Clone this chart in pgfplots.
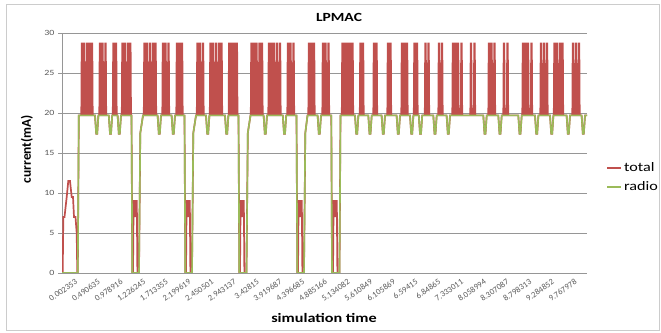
\documentclass[border=0pt]{standalone}
\usepackage{pgfplots}
\pgfplotsset{compat=1.18}
\usepackage{fontspec}
\setmainfont{Carlito}[FakeStretch=1.25]
\newfontfamily\ylabfont{Carlito}
\definecolor{exred}{RGB}{192,80,77}
\definecolor{exgreen}{RGB}{155,187,89}
\definecolor{gridgray}{RGB}{150,150,150}
\definecolor{ticktext}{RGB}{90,90,90}
\begin{document}
\begin{tikzpicture}
\useasboundingbox (0,0) rectangle (661bp,333bp);
\draw[color=black!20, line width=1bp] (6.5bp,2bp) rectangle (659bp,328.5bp);
\begin{axis}[
  at={(62bp,60bp)}, anchor=south west,
  scale only axis, width=525bp, height=240bp,
  xmin=62, xmax=587, ymin=0, ymax=30,
  ytick={0,5,10,15,20,25,30},
  xtick={75,97.7,120.4,143.1,165.8,188.5,211.2,233.9,256.6,279.3,302,324.7,347.4,370.1,392.8,415.5,438.2,460.9,483.6,506.3,529,551.7,574.4},
  xticklabels={0.002353,0.490635,0.978916,1.226245,1.713355,2.199619,2.450501,2.943137,3.42815,3.919687,4.396685,4.885166,5.134082,5.610849,6.105869,6.59415,6.84865,7.333011,8.058994,8.307087,8.798313,9.284852,9.767978},
  /pgf/number format/assume math mode=true,
  axis x line*=bottom, axis y line*=left,
  axis line style={draw=gridgray, line width=0.8bp},
  ymajorgrids, grid style={draw=gridgray, line width=0.8bp},
  tick align=outside, major tick length=4bp,
  ytick style={draw=gridgray, line width=0.8bp},
  xtick style={draw=none},
  y tick label style={font=\fontsize{8}{9}\selectfont, text=ticktext},
  x tick label style={rotate=35, anchor=north east, font=\ylabfont\fontsize{8.5}{9}\selectfont, text=ticktext, inner sep=1bp},
  legend style={at={(1.036,0.398)}, anchor=west, draw=none, fill=none, inner sep=0pt, row sep=5bp, font=\fontsize{13}{14}\selectfont},
  legend cell align=left,
  legend image code/.code={\draw[mark repeat=2,mark phase=2,#1] plot coordinates {(0bp,0bp) (7bp,0bp) (14bp,0bp)};},
  legend image post style={line width=2bp},
]
\addplot[color=exred, line width=1.7bp, line join=miter] coordinates {
(62,0)(62.7,0)(63.3,7)(64.5,7)(66.7,9.5)(68.3,11.5)(70,11.5)(71.7,9.5)(73,9.5)(74,7)(75.5,7)(76.7,5)(77.3,0)(77.8,0)(78.8,19.7)
(81.3,19.7)(81.7,28.7)(82.3,28.7)(82.7,19.7)
(83.3,19.7)(83.7,28.7)(84.3,28.7)(84.7,19.7)
(86.3,19.7)(86.7,28.7)(87.3,28.7)(87.7,19.7)
(88.8,19.7)(89.2,28.7)(89.8,28.7)(90.2,19.7)
(91.3,19.7)(91.7,28.7)(92.3,28.7)(92.7,19.7)
(95,19.7)(96.2,17.4)(97.2,17.4)(98.4,19.7)
(99.3,19.7)(99.7,28.7)(100.3,28.7)(100.7,19.7)
(101.8,19.7)(102.2,28.7)(102.8,28.7)(103.2,19.7)
(104.8,19.7)(105.2,28.7)(105.8,28.7)(106.2,19.7)
(108.8,19.7)(110,17.4)(111,17.4)(112.2,19.7)
(112.8,19.7)(113.2,28.7)(113.8,28.7)(114.2,19.7)
(115.3,19.7)(115.7,28.7)(116.3,28.7)(116.7,19.7)
(117.6,19.7)(118.8,17.4)(119.8,17.4)(121,19.7)
(121.8,19.7)(122.2,28.7)(122.8,28.7)(123.2,19.7)
(124.3,19.7)(124.7,28.7)(125.3,28.7)(125.7,19.7)
(127.3,19.7)(127.7,28.7)(128.3,28.7)(128.7,19.7)
(129.6,19.7)(130,28.7)(130.6,28.7)(131,19.7)
(131.5,19.7)(132.3,0)(133,0)(133.6,9)(134.8,9)(135.3,7)(135.8,9)(136.8,9)(137.4,0)(139,0)(140.3,17.5)(143,19.7)
(143.8,19.7)(144.2,28.7)(144.8,28.7)(145.2,19.7)
(146.3,19.7)(146.7,28.7)(147.3,28.7)(147.7,19.7)
(149.3,19.7)(149.7,28.7)(150.3,28.7)(150.7,19.7)
(152.3,19.7)(152.7,28.7)(153.3,28.7)(153.7,19.7)
(154.8,19.7)(155.2,28.7)(155.8,28.7)(156.2,19.7)
(157.6,19.7)(158.8,17.4)(159.8,17.4)(161,19.7)
(162.3,19.7)(162.7,28.7)(163.3,28.7)(163.7,19.7)
(164.8,19.7)(165.2,28.7)(165.8,28.7)(166.2,19.7)
(167.8,19.7)(168.2,28.7)(168.8,28.7)(169.2,19.7)
(171.6,19.7)(172.8,17.4)(173.8,17.4)(175,19.7)
(176.3,19.7)(176.7,28.7)(177.3,28.7)(177.7,19.7)
(178.8,19.7)(179.2,28.7)(179.8,28.7)(180.2,19.7)
(181.3,19.7)(181.7,28.7)(182.3,28.7)(182.7,19.7)
(184.5,19.7)(185.3,0)(186,0)(186.6,9)(187.8,9)(188.3,7)(188.8,9)(189.8,9)(190.4,0)(192,0)(193.3,17.5)(196,19.7)
(196.8,19.7)(197.2,28.7)(197.8,28.7)(198.2,19.7)
(199.3,19.7)(199.7,28.7)(200.3,28.7)(200.7,19.7)
(202.3,19.7)(202.7,28.7)(203.3,28.7)(203.7,19.7)
(206,19.7)(207.2,17.4)(208.2,17.4)(209.4,19.7)
(209.8,19.7)(210.2,28.7)(210.8,28.7)(211.2,19.7)
(212.3,19.7)(212.7,28.7)(213.3,28.7)(213.7,19.7)
(215.3,19.7)(215.7,28.7)(216.3,28.7)(216.7,19.7)
(218.3,19.7)(218.7,28.7)(219.3,28.7)(219.7,19.7)
(220.8,19.7)(221.2,28.7)(221.8,28.7)(222.2,19.7)
(225,19.7)(226.2,17.4)(227.2,17.4)(228.4,19.7)
(228.6,19.7)(229,28.7)(229.6,28.7)(230,19.7)
(231,19.7)(231.4,28.7)(232,28.7)(232.4,19.7)
(233.5,19.7)(233.9,28.7)(234.5,28.7)(234.9,19.7)
(236.1,19.7)(236.5,28.7)(237.1,28.7)(237.5,19.7)
(238.5,19.7)(239.3,0)(240,0)(240.6,9)(241.8,9)(242.3,7)(242.8,9)(243.8,9)(244.4,0)(246.5,0)(247.8,17.5)(250.5,19.7)
(250.8,19.7)(251.2,28.7)(251.8,28.7)(252.2,19.7)
(253.3,19.7)(253.7,28.7)(254.3,28.7)(254.7,19.7)
(255.8,19.7)(256.2,28.7)(256.8,28.7)(257.2,19.7)
(258.8,19.7)(259.2,28.7)(259.8,28.7)(260.2,19.7)
(261.3,19.7)(261.7,28.7)(262.3,28.7)(262.7,19.7)
(263.6,19.7)(264.8,17.4)(265.8,17.4)(267,19.7)
(268.3,19.7)(268.7,28.7)(269.3,28.7)(269.7,19.7)
(270.8,19.7)(271.2,28.7)(271.8,28.7)(272.2,19.7)
(273.3,19.7)(273.7,28.7)(274.3,28.7)(274.7,19.7)
(276.3,19.7)(276.7,28.7)(277.3,28.7)(277.7,19.7)
(279.3,19.7)(279.7,28.7)(280.3,28.7)(280.7,19.7)
(282.8,19.7)(284,17.4)(285,17.4)(286.2,19.7)
(287.3,19.7)(287.7,28.7)(288.3,28.7)(288.7,19.7)
(289.8,19.7)(290.2,28.7)(290.8,28.7)(291.2,19.7)
(292.8,19.7)(293.2,28.7)(293.8,28.7)(294.2,19.7)
(296.5,19.7)(297.3,0)(298,0)(298.6,9)(299.8,9)(300.3,7)(300.8,9)(301.8,9)(302.4,0)(304,0)(305.3,17.5)(307.5,19.7)
(308.3,19.7)(308.7,28.7)(309.3,28.7)(309.7,19.7)
(310.8,19.7)(311.2,28.7)(311.8,28.7)(312.2,19.7)
(313.3,19.7)(313.7,28.7)(314.3,28.7)(314.7,19.7)
(317.6,19.7)(318.8,17.4)(319.8,17.4)(321,19.7)
(322.3,19.7)(322.7,28.7)(323.3,28.7)(323.7,19.7)
(324.8,19.7)(325.2,28.7)(325.8,28.7)(326.2,19.7)
(327.8,19.7)(328.2,28.7)(328.8,28.7)(329.2,19.7)
(331.3,19.7)(332,0)(333,0)(333.6,9)(334.8,9)(335.3,7)(335.8,9)(336.8,9)(337.4,0)(339.5,0)(340.5,19.7)
(341.8,19.7)(342.2,28.7)(342.8,28.7)(343.2,19.7)
(344.3,19.7)(344.7,28.7)(345.3,28.7)(345.7,19.7)
(346.8,19.7)(347.2,28.7)(347.8,28.7)(348.2,19.7)
(349.3,19.7)(349.7,28.7)(350.3,28.7)(350.7,19.7)
(351.8,19.7)(352.2,28.7)(352.8,28.7)(353.2,19.7)
(355,19.7)(356.2,17.4)(357.2,17.4)(358.4,19.7)
(359.8,19.7)(360.2,28.7)(360.8,28.7)(361.2,19.7)
(362.3,19.7)(362.7,28.7)(363.3,28.7)(363.7,19.7)
(368.3,19.7)(369.5,17.4)(370.5,17.4)(371.7,19.7)
(373.3,19.7)(373.7,28.7)(374.3,28.7)(374.7,19.7)
(375.8,19.7)(376.2,28.7)(376.8,28.7)(377.2,19.7)
(381.6,19.7)(382.8,17.4)(383.8,17.4)(385,19.7)
(387.3,19.7)(387.7,28.7)(388.3,28.7)(388.7,19.7)
(389.8,19.7)(390.2,28.7)(390.8,28.7)(391.2,19.7)
(396.6,19.7)(397.8,17.4)(398.8,17.4)(400,19.7)
(401.3,19.7)(401.7,28.7)(402.3,28.7)(402.7,19.7)
(403.8,19.7)(404.2,28.7)(404.8,28.7)(405.2,19.7)
(406.3,19.7)(406.7,28.7)(407.3,28.7)(407.7,19.7)
(410,19.7)(411.2,17.4)(412.2,17.4)(413.4,19.7)
(413.8,19.7)(414.2,28.7)(414.8,28.7)(415.2,19.7)
(416.3,19.7)(416.7,28.7)(417.3,28.7)(417.7,19.7)
(418.8,19.7)(420,17.4)(421,17.4)(422.2,19.7)
(424.8,19.7)(425.2,28.7)(425.8,28.7)(426.2,19.7)
(427.8,19.7)(428.2,28.7)(428.8,28.7)(429.2,19.7)
(433.3,19.7)(434.5,17.4)(435.5,17.4)(436.7,19.7)
(438.3,19.7)(438.7,28.7)(439.3,28.7)(439.7,19.7)
(441.3,19.7)(441.7,28.7)(442.3,28.7)(442.7,19.7)
(446.6,19.7)(447.8,17.4)(448.8,17.4)(450,19.7)
(452.3,19.7)(452.7,28.7)(453.3,28.7)(453.7,19.7)
(454.8,19.7)(455.2,28.7)(455.8,28.7)(456.2,19.7)
(457.3,19.7)(457.7,28.7)(458.3,28.7)(458.7,19.7)
(460.8,19.7)(461.2,28.7)(461.8,28.7)(462.2,19.7)
(470.3,19.7)(470.7,28.7)(471.3,28.7)(471.7,19.7)
(473.8,19.7)(474.2,28.7)(474.8,28.7)(475.2,19.7)
(483.3,19.7)(484.5,17.4)(485.5,17.4)(486.7,19.7)
(488.3,19.7)(488.7,28.7)(489.3,28.7)(489.7,19.7)
(490.8,19.7)(491.2,28.7)(491.8,28.7)(492.2,19.7)
(493.8,19.7)(494.2,28.7)(494.8,28.7)(495.2,19.7)
(498.3,19.7)(499.5,17.4)(500.5,17.4)(501.7,19.7)
(503.3,19.7)(503.7,28.7)(504.3,28.7)(504.7,19.7)
(506.8,19.7)(507.2,28.7)(507.8,28.7)(508.2,19.7)
(518.3,19.7)(519.5,17.4)(520.5,17.4)(521.7,19.7)
(522.3,19.7)(522.7,28.7)(523.3,28.7)(523.7,19.7)
(524.8,19.7)(525.2,28.7)(525.8,28.7)(526.2,19.7)
(527.3,19.7)(527.7,28.7)(528.3,28.7)(528.7,19.7)
(530.8,19.7)(531.2,28.7)(531.8,28.7)(532.2,19.7)
(535,19.7)(536.2,17.4)(537.2,17.4)(538.4,19.7)
(540.3,19.7)(540.7,28.7)(541.3,28.7)(541.7,19.7)
(543.3,19.7)(543.7,28.7)(544.3,28.7)(544.7,19.7)
(546.3,19.7)(546.7,28.7)(547.3,28.7)(547.7,19.7)
(550,19.7)(551.2,17.4)(552.2,17.4)(553.4,19.7)
(553.8,19.7)(554.2,28.7)(554.8,28.7)(555.2,19.7)
(556.3,19.7)(556.7,28.7)(557.3,28.7)(557.7,19.7)
(559.3,19.7)(559.7,28.7)(560.3,28.7)(560.7,19.7)
(561.8,19.7)(562.2,28.7)(562.8,28.7)(563.2,19.7)
(566.6,19.7)(567.8,17.4)(568.8,17.4)(570,19.7)
(572.3,19.7)(572.7,28.7)(573.3,28.7)(573.7,19.7)
(575.3,19.7)(575.7,28.7)(576.3,28.7)(576.7,19.7)
(578.3,19.7)(578.7,28.7)(579.3,28.7)(579.7,19.7)
(581.6,19.7)(582.8,17.4)(583.8,17.4)(585,19.7)
(587,19.7)
};
\addlegendentry{total}
\addplot[color=exgreen, line width=1.6bp, line join=round] coordinates {
(62,0)(77.8,0)(78.8,19.7)
(95,19.7)(96.2,17.4)(97.2,17.4)(98.4,19.7)
(108.8,19.7)(110,17.4)(111,17.4)(112.2,19.7)
(117.6,19.7)(118.8,17.4)(119.8,17.4)(121,19.7)
(131.5,19.7)(132.3,0)(139,0)(140.3,17.5)(143,19.7)
(157.6,19.7)(158.8,17.4)(159.8,17.4)(161,19.7)
(171.6,19.7)(172.8,17.4)(173.8,17.4)(175,19.7)
(184.5,19.7)(185.3,0)(192,0)(193.3,17.5)(196,19.7)
(206,19.7)(207.2,17.4)(208.2,17.4)(209.4,19.7)
(225,19.7)(226.2,17.4)(227.2,17.4)(228.4,19.7)
(238.5,19.7)(239.3,0)(246.5,0)(247.8,17.5)(250.5,19.7)
(263.6,19.7)(264.8,17.4)(265.8,17.4)(267,19.7)
(282.8,19.7)(284,17.4)(285,17.4)(286.2,19.7)
(296.5,19.7)(297.3,0)(304,0)(305.3,17.5)(307.5,19.7)
(317.6,19.7)(318.8,17.4)(319.8,17.4)(321,19.7)
(331.3,19.7)(332,0)(339.5,0)(340.5,19.7)
(355,19.7)(356.2,17.4)(357.2,17.4)(358.4,19.7)
(368.3,19.7)(369.5,17.4)(370.5,17.4)(371.7,19.7)
(381.6,19.7)(382.8,17.4)(383.8,17.4)(385,19.7)
(396.6,19.7)(397.8,17.4)(398.8,17.4)(400,19.7)
(410,19.7)(411.2,17.4)(412.2,17.4)(413.4,19.7)
(418.8,19.7)(420,17.4)(421,17.4)(422.2,19.7)
(433.3,19.7)(434.5,17.4)(435.5,17.4)(436.7,19.7)
(446.6,19.7)(447.8,17.4)(448.8,17.4)(450,19.7)
(483.3,19.7)(484.5,17.4)(485.5,17.4)(486.7,19.7)
(498.3,19.7)(499.5,17.4)(500.5,17.4)(501.7,19.7)
(518.3,19.7)(519.5,17.4)(520.5,17.4)(521.7,19.7)
(535,19.7)(536.2,17.4)(537.2,17.4)(538.4,19.7)
(550,19.7)(551.2,17.4)(552.2,17.4)(553.4,19.7)
(566.6,19.7)(567.8,17.4)(568.8,17.4)(570,19.7)
(581.6,19.7)(582.8,17.4)(583.8,17.4)(585,19.7)
(587,19.7)
};
\addlegendentry{radio}
\end{axis}
\node[font=\bfseries\fontsize{12.5}{14}\selectfont] at (339bp,316bp) {LPMAC};
\node[font=\bfseries\fontsize{13}{15}\selectfont] at (324bp,15bp) {simulation time};
\node[font=\ylabfont\bfseries\fontsize{13.5}{15}\selectfont, rotate=90] at (27bp,184bp) {current(mA)};
\end{tikzpicture}
\end{document}
